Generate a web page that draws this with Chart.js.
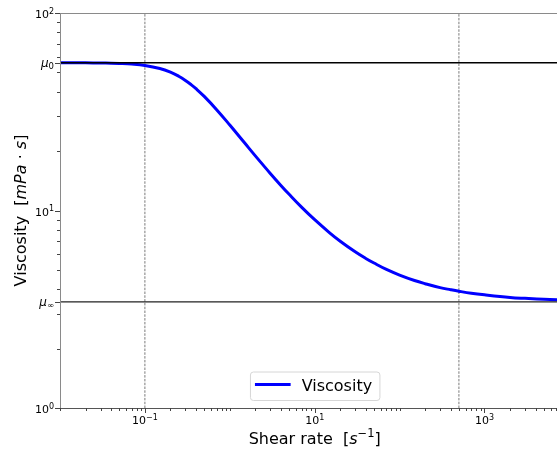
<!DOCTYPE html>
<html><head><meta charset="utf-8">
<script src="https://cdn.jsdelivr.net/npm/chart.js@4"></script>
<style>html,body{margin:0;padding:0;background:#fff;overflow:hidden}#wrap{width:557px;height:450px;position:relative}</style>
</head><body><div id="wrap"><canvas id="c" width="557" height="450"></canvas></div>
<script>
// Values
const shearRate = [0.01, 0.015, 0.02, 0.03, 0.04, 0.05, 0.07, 0.1, 0.15, 0.2, 0.25, 0.3, 0.35, 0.4, 0.5, 0.7, 1, 1.5, 2, 3, 4, 5, 7, 10, 15, 20, 30, 40, 50, 70, 100, 150, 200, 300, 400, 500, 700, 1000, 2000, 3000, 5000, 10000];
const viscosity = [55.98, 55.96, 55.93, 55.83, 55.71, 55.54, 55.12, 54.27, 52.40, 50.20, 47.87, 45.58, 43.40, 41.38, 37.82, 32.41, 27.09, 21.95, 18.91, 15.41, 13.40, 12.08, 10.40, 8.98, 7.71, 6.99, 6.18, 5.72, 5.42, 5.03, 4.71, 4.42, 4.26, 4.07, 3.97, 3.90, 3.81, 3.74, 3.63, 3.59, 3.55, 3.52];
const muZero = 56;
const muInf = 3.45;
const markerRates = [0.1, 500];
const xLimits = [0.01, 7150];
const yLimits = [1, 100];
const lineSpan = [0.01, 10000];
const xTickLabels = [{v: 0.1, exp: '\u22121'}, {v: 10, exp: '1'}, {v: 1000, exp: '3'}];
const yTickLabels = [{v: 1, exp: '0'}, {v: 10, exp: '1'}, {v: 100, exp: '2'}];
const yMuLabels = [{v: muZero, sub: '0'}, {v: muInf, sub: '\u221e'}];
const seriesName = 'Viscosity';
const xTitle = ['Shear rate  [', 's', '\u22121', ']'];
const yTitle = ['Viscosity  [', 'mPa', ' \u00b7 ', 's', ']'];

const FONT = "'DejaVu Sans', sans-serif";

function drawPow(ctx, base, exp, x, y, align) {
  ctx.font = '11px ' + FONT;
  const w1 = ctx.measureText(base).width;
  ctx.font = '8px ' + FONT;
  const w2 = ctx.measureText(exp).width;
  const total = w1 + w2;
  const start = align === 'center' ? x - total / 2 : x - total;
  ctx.textAlign = 'left';
  ctx.textBaseline = 'alphabetic';
  ctx.font = '11px ' + FONT;
  ctx.fillText(base, start, y);
  ctx.font = '8px ' + FONT;
  ctx.fillText(exp, start + w1, y - 4.5);
}

const decorPlugin = {
  id: 'decor',
  afterDraw(chart) {
    const ctx = chart.ctx;
    const a = chart.chartArea;
    const xs = chart.scales.x, ys = chart.scales.y;
    ctx.save();
    // spines
    ctx.lineWidth = 1;
    ctx.strokeStyle = '#8a8a8a';
    ctx.beginPath();
    ctx.moveTo(a.left, a.top + 0.5); ctx.lineTo(a.right, a.top + 0.5);
    ctx.moveTo(a.left + 0.5, a.top); ctx.lineTo(a.left + 0.5, a.bottom);
    ctx.stroke();
    ctx.strokeStyle = '#555';
    ctx.beginPath();
    ctx.moveTo(a.left, a.bottom + 0.5); ctx.lineTo(a.right, a.bottom + 0.5);
    ctx.stroke();

    // x ticks
    ctx.strokeStyle = '#444';
    const majorX = xTickLabels.map(t => t.v);
    for (let k = -2; k <= 4; k++) {
      for (let m = 1; m <= 9; m++) {
        const v = m * Math.pow(10, k);
        const px = xs.getPixelForValue(v);
        if (px < a.left - 0.5 || px > a.right) continue;
        const isMajor = majorX.some(q => Math.abs(q - v) / q < 1e-9);
        ctx.beginPath();
        ctx.moveTo(Math.round(px) + 0.5, a.bottom);
        ctx.lineTo(Math.round(px) + 0.5, a.bottom + (isMajor ? 5 : 3));
        ctx.stroke();
      }
    }
    // y ticks
    const majorY = yTickLabels.map(t => t.v).concat(yMuLabels.map(t => t.v));
    for (let k = 0; k <= 1; k++) {
      for (let m = 2; m <= 9; m++) {
        const v = m * Math.pow(10, k);
        const py = ys.getPixelForValue(v);
        ctx.beginPath();
        ctx.moveTo(a.left, Math.round(py) + 0.5);
        ctx.lineTo(a.left - 3, Math.round(py) + 0.5);
        ctx.stroke();
      }
    }
    majorY.forEach(v => {
      const py = ys.getPixelForValue(v);
      ctx.beginPath();
      ctx.moveTo(a.left, Math.round(py) + 0.5);
      ctx.lineTo(a.left - 5, Math.round(py) + 0.5);
      ctx.stroke();
    });

    // tick labels
    ctx.fillStyle = '#000';
    xTickLabels.forEach(t => {
      drawPow(ctx, '10', t.exp, xs.getPixelForValue(t.v), a.bottom + 16, 'center');
    });
    yTickLabels.forEach(t => {
      drawPow(ctx, '10', t.exp, a.left - 6, ys.getPixelForValue(t.v) + 5.3, 'right');
    });
    yMuLabels.forEach(t => {
      const py = ys.getPixelForValue(t.v);
      ctx.font = '8.5px ' + FONT;
      const ws = ctx.measureText(t.sub).width;
      ctx.font = 'italic 12px ' + FONT;
      const wm = ctx.measureText('\u03bc').width;
      const start = a.left - 6 - ws - wm;
      ctx.textAlign = 'left';
      ctx.fillText('\u03bc', start, py + 4);
      ctx.font = '8.5px ' + FONT;
      ctx.fillText(t.sub, start + wm, py + 6.5);
    });

    // x title
    const cx = xs.getPixelForValue(10);
    const parts = [
      {t: xTitle[0], f: '16px ' + FONT, dy: 0},
      {t: xTitle[1], f: 'italic 16px ' + FONT, dy: 0},
      {t: xTitle[2], f: '11.5px ' + FONT, dy: -7},
      {t: xTitle[3], f: '16px ' + FONT, dy: 0}
    ];
    let tw = 0;
    parts.forEach(p => { ctx.font = p.f; p.w = ctx.measureText(p.t).width; tw += p.w; });
    let xx = cx - tw / 2;
    const by = 444;
    parts.forEach(p => { ctx.font = p.f; ctx.fillText(p.t, xx, by + p.dy); xx += p.w; });

    // y title (rotated)
    const ycx = (a.top + a.bottom) / 2;
    const yparts = [
      {t: yTitle[0], f: '16px ' + FONT},
      {t: yTitle[1], f: 'italic 16px ' + FONT},
      {t: yTitle[2], f: '16px ' + FONT},
      {t: yTitle[3], f: 'italic 16px ' + FONT},
      {t: yTitle[4], f: '16px ' + FONT}
    ];
    let yw = 0;
    yparts.forEach(p => { ctx.font = p.f; p.w = ctx.measureText(p.t).width; yw += p.w; });
    ctx.save();
    ctx.translate(26, ycx);
    ctx.rotate(-Math.PI / 2);
    let yy = -yw / 2;
    yparts.forEach(p => { ctx.font = p.f; ctx.fillText(p.t, yy, 0); yy += p.w; });
    ctx.restore();

    // legend (lower center)
    ctx.font = '16px ' + FONT;
    const lw = ctx.measureText(seriesName).width;
    const boxW = 51.7 + lw + 7.3;
    const boxH = 28.5;
    const bx = cx - boxW / 2;
    const byy = a.bottom - 8 - boxH;
    ctx.beginPath();
    ctx.roundRect(bx + 0.5, byy + 0.5, boxW, boxH, 3);
    ctx.fillStyle = 'rgba(255,255,255,0.8)';
    ctx.fill();
    ctx.strokeStyle = '#d6d6d6';
    ctx.lineWidth = 1;
    ctx.stroke();
    ctx.strokeStyle = '#0000ff';
    ctx.lineWidth = 3;
    ctx.beginPath();
    ctx.moveTo(bx + 5, byy + 13);
    ctx.lineTo(bx + 40.7, byy + 13);
    ctx.stroke();
    ctx.fillStyle = '#000';
    ctx.textAlign = 'left';
    ctx.fillText(seriesName, bx + 51.7, byy + 19);
    ctx.restore();
  }
};

const curve = shearRate.map((x, i) => ({x: x, y: viscosity[i]}));
const hLine = v => lineSpan.map(x => ({x: x, y: v}));
const vLine = x => yLimits.map(y => ({x: x, y: y}));

new Chart(document.getElementById('c'), {
  type: 'scatter',
  data: {
    datasets: [
      {label: 'mu0', data: hLine(muZero), showLine: true, borderColor: '#000', borderWidth: 1.3, pointRadius: 0, order: 0},
      {label: 'muInf', data: hLine(muInf), showLine: true, borderColor: '#222', borderWidth: 1.3, pointRadius: 0, order: 0},
      {label: 'v1', data: vLine(markerRates[0]), showLine: true, borderColor: '#7a7a7a', borderWidth: 1, borderDash: [2.5, 1.3], pointRadius: 0, order: 2},
      {label: 'v2', data: vLine(markerRates[1]), showLine: true, borderColor: '#7a7a7a', borderWidth: 1, borderDash: [2.5, 1.3], pointRadius: 0, order: 2},
      {label: seriesName, data: curve, showLine: true, borderColor: '#0000ff', borderWidth: 3, pointRadius: 0, tension: 0.4, borderJoinStyle: 'round', borderCapStyle: 'round', order: 1}
    ]
  },
  options: {
    responsive: false,
    animation: false,
    devicePixelRatio: 1,
    layout: {padding: {top: 13, left: 0, right: 0, bottom: 0}},
    plugins: {legend: {display: false}, tooltip: {enabled: false}},
    scales: {
      x: {
        type: 'logarithmic', min: xLimits[0], max: xLimits[1],
        grid: {display: false, drawTicks: false}, border: {display: false},
        ticks: {display: false},
        afterFit: s => { s.height = 42; }
      },
      y: {
        type: 'logarithmic', min: yLimits[0], max: yLimits[1],
        grid: {display: false, drawTicks: false}, border: {display: false},
        ticks: {display: false},
        afterFit: s => { s.width = 60; }
      }
    }
  },
  plugins: [decorPlugin]
});
</script>
</body></html>
